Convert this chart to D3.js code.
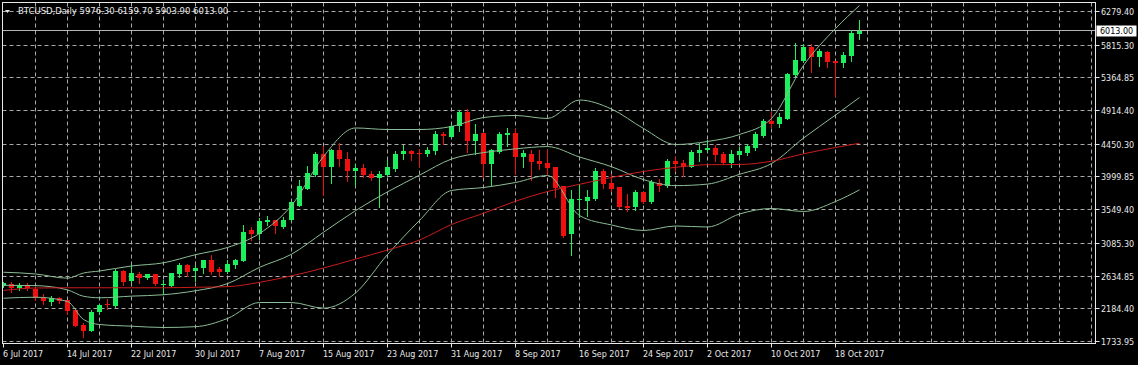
<!DOCTYPE html>
<html><head><meta charset="utf-8">
<script src="https://cdn.jsdelivr.net/npm/d3@7"></script>
<style>html,body{margin:0;padding:0;background:#000;overflow:hidden}svg{display:block}</style>
</head><body>
<svg id="c" width="1138" height="365"></svg>
<script>
// ---------- data ----------
const symbolTitle = "BTCUSD,Daily";
const startDay = "2017-07-06";
const opens = [2492,2529,2468,2519,2460,2330,2281,2330,2299,2171,1968,1885,2138,2253,2220,2702,2565,2666,2611,2657,
2515,2505,2657,2781,2702,2749,2850,2735,2688,2781,2840,3263,3208,3377,3401,3308,3401,3607,3837,4034,
4310,4135,4374,4250,4080,4126,4044,3989,4034,4113,4310,4355,4337,4310,4355,4595,4548,4709,4892,4493,
4603,4172,4341,4576,4603,4282,4319,4217,4190,4135,3869,3208,3680,3676,3690,4089,3914,3859,3607,3584,
3790,3653,3914,3869,4217,4190,4144,4328,4365,4402,4310,4190,4296,4328,4402,4571,4768,4723,4801,5398,
5604,5788,5650,5719,5595,5567,5673,5976.30];
const highs = [2560,2547,2533,2533,2478,2395,2358,2344,2305,2188,1982,2171,2253,2322,2735,2712,2781,2698,2666,2666,
2584,2684,2812,2804,2781,2859,2919,2757,2850,2873,3332,3308,3438,3469,3414,3446,3676,3952,4158,4341,
4420,4392,4471,4341,4182,4172,4080,4080,4237,4355,4443,4365,4388,4410,4640,4617,4733,4916,4939,4733,
4612,4385,4617,4677,4664,4365,4365,4365,4365,4140,3875,3814,3906,3823,4126,4113,4044,3865,3759,3814,
3793,3961,3975,4241,4282,4237,4365,4465,4503,4434,4341,4365,4410,4457,4617,4801,4892,4879,5439,5843,
5834,5834,5766,5742,5604,5719,6027,6159.70];
const lows = [2478,2413,2450,2450,2299,2244,2239,2267,2106,1941,1793,1872,2115,2175,2216,2515,2551,2542,2598,2519,
2391,2496,2620,2643,2574,2675,2666,2643,2684,2749,2836,3135,3149,3332,3222,3295,3391,3597,3828,4020,
3745,3914,4158,3938,3892,3997,3952,3584,4007,4089,4250,4237,4158,4286,4310,4457,4544,4640,4341,4319,
3993,3883,4337,4420,4044,4135,3952,4113,4044,3722,3171,2919,3446,3456,3683,3851,3804,3576,3529,3548,
3639,3648,3804,3859,4089,4007,4140,4227,4355,4217,4182,4144,4264,4296,4374,4548,4695,4695,4792,5391,
5577,5443,5522,5512,5109,5512,5595,5903.90];
const closes = [2542,2468,2515,2468,2330,2289,2330,2289,2151,1954,1885,2147,2230,2230,2702,2560,2675,2611,2657,2529,
2529,2675,2781,2688,2749,2850,2688,2688,2795,2850,3249,3208,3391,3401,3322,3410,3653,3869,4052,4319,
4135,4374,4250,4080,4126,4034,3989,4044,4135,4310,4355,4310,4328,4365,4595,4558,4709,4892,4493,4595,
4182,4374,4595,4603,4282,4333,4204,4172,4121,3851,3194,3690,3700,3722,4089,3906,3837,3593,3576,3790,
3653,3928,3869,4217,4172,4131,4341,4374,4396,4296,4190,4310,4355,4420,4595,4768,4723,4823,5412,5614,
5788,5650,5733,5581,5567,5687,5980,6013.00];

// Bollinger band readings (bar index -> price)
const bandIdx   = [0,4,8,10,12,16,20,24,28,32,36,40,44,48,52,56,60,64,68,72,76,80,84,88,92,96,100,104,107];
const bandUpper = [2688,2664,2606,2677,2705,2774,2818,2930,3029,3222,3607,4282,4675,4654,4654,4695,4819,4847,4806,5060,4936,4668,4447,4489,4585,4806,5536,6045,6362];
const bandMid   = [2509,2504,2445,2357,2336,2359,2378,2433,2531,2755,2936,3239,3536,3795,4025,4247,4336,4387,4419,4275,4142,3964,3881,3902,4037,4185,4536,4853,5095];
const bandLower = [2330,2344,2285,2037,1968,1945,1927,1938,2051,2271,2271,2193,2402,2932,3401,3814,3855,3924,4020,3469,3339,3263,3325,3311,3490,3566,3525,3662,3823];

// moving average readings
const maIdx = [0,4,8,12,16,20,24,28,32,36,40,44,48,52,56,60,64,68,72,76,80,84,88,92,96,100,104,107];
const maVal = [2437,2471,2474,2474,2474,2474,2481,2489,2549,2638,2746,2869,2994,3132,3345,3500,3666,3800,3899,3993,4076,4133,4169,4172,4217,4319,4406,4465];

const priceTicks = [1733.95,2184.40,2634.85,3085.30,3549.40,3999.85,4450.30,4914.40,5364.85,5815.30,6279.40];
const lastPrice = 6013.00;

// ---------- drawing ----------
const svg = d3.select("#c");
const W = 1138, H = 365;
const L = 2.5, R = 1095.5, T = 2.5, B = 343.5;

const start = new Date(startDay + "T00:00:00Z");
const dates = d3.utcDay.range(start, d3.utcDay.offset(start, opens.length));
const x = d3.scaleUtc().domain([start, d3.utcDay.offset(start, 137)]).range([3.5, 3.5 + 8 * 137]);
const y = d3.scaleLinear().domain([1733.95, 6279.40]).range([341.5, 11.5]);
const px = v => Math.round(v - 0.5) + 0.5;

svg.append("rect").attr("width", W).attr("height", H).attr("fill", "#000");

svg.append("defs").append("clipPath").attr("id", "clip")
  .append("rect").attr("x", L + 0.5).attr("y", T + 0.5).attr("width", R - L - 1).attr("height", B - T - 1);

const grid = svg.append("g").attr("stroke", "#a8a8a8").attr("stroke-width", 1).attr("stroke-dasharray", "4,3");
priceTicks.forEach(v => {
  grid.append("line").attr("x1", L).attr("x2", R).attr("y1", px(y(v))).attr("y2", px(y(v)));
});
const gridDates = d3.utcDay.every(1).range(start, d3.utcDay.offset(start, 137)).filter((d, i) => i % 4 === 0);
gridDates.forEach(d => {
  const gx = px(x(d));
  if (gx > L + 1 && gx < R) grid.append("line").attr("x1", gx).attr("x2", gx).attr("y1", T).attr("y2", B);
});

// current price line
svg.append("line").attr("x1", L).attr("x2", R).attr("y1", px(y(lastPrice))).attr("y2", px(y(lastPrice)))
  .attr("stroke", "#b4b4b4").attr("stroke-width", 1);

const plot = svg.append("g").attr("clip-path", "url(#clip)");

// candles
const bull = "#1cf05c", bear = "#f01010";
const cg = plot.append("g");
dates.forEach((d, i) => {
  const cx = Math.round(x(d) - 0.5) + 0.5;
  const o = opens[i], c = closes[i], h = highs[i], l = lows[i];
  const col = c >= o ? bull : bear;
  cg.append("line").attr("x1", cx).attr("x2", cx).attr("y1", Math.round(y(h))).attr("y2", Math.round(y(l)) + 1)
    .attr("stroke", col).attr("stroke-width", 1);
  const yt = Math.round(y(Math.max(o, c))), yb = Math.round(y(Math.min(o, c)));
  cg.append("rect").attr("x", cx - 2.5).attr("y", yt).attr("width", 5).attr("height", Math.max(1, yb - yt))
    .attr("fill", col);
});

// indicator lines
const bandLine = (idx, vals) => d3.line().curve(d3.curveMonotoneX)
  .x((v, k) => x(dates[idx[k]])).y(v => y(v))(vals);
const bandColor = "#8cbd96";
[bandUpper, bandMid, bandLower].forEach(arr => {
  plot.append("path").attr("d", bandLine(bandIdx, arr)).attr("fill", "none")
    .attr("stroke", bandColor).attr("stroke-width", 1);
});
plot.append("path").attr("d", bandLine(maIdx, maVal)).attr("fill", "none")
  .attr("stroke", "#cc1c1c").attr("stroke-width", 1);

// frame
svg.append("rect").attr("x", L).attr("y", T).attr("width", R - L).attr("height", B - T)
  .attr("fill", "none").attr("stroke", "#e8e8e8").attr("stroke-width", 1);

// price axis
const yAxis = d3.axisRight(y).tickValues(priceTicks).tickFormat(d3.format(".2f")).tickSize(4).tickPadding(1.5);
const ya = svg.append("g").attr("transform", `translate(${R},0)`).call(yAxis);
ya.select(".domain").remove();
ya.selectAll(".tick").attr("transform", d => `translate(0,${px(y(d))})`);
ya.selectAll(".tick line").attr("stroke", "#e8e8e8");
ya.selectAll(".tick text").attr("fill", "#e8e8e8").attr("dy", "0.45em")
  .style("font-family", "'DejaVu Sans'").style("font-size", "8px");

// date axis
const dateTicks = dates.filter((d, i) => i % 8 === 0);
const xAxis = d3.axisBottom(x).tickValues(dateTicks).tickFormat(d3.utcFormat("%-d %b %Y")).tickSize(4).tickPadding(5);
const xa = svg.append("g").attr("transform", `translate(0,${B})`).call(xAxis);
xa.select(".domain").remove();
xa.selectAll(".tick").attr("transform", d => `translate(${px(x(d))},0)`);
xa.selectAll(".tick line").attr("stroke", "#e8e8e8");
xa.selectAll(".tick text").attr("fill", "#e8e8e8").attr("text-anchor", "start").attr("x", -0.5).attr("dy", "0.6em")
  .style("font-family", "'DejaVu Sans'").style("font-size", "8px");

// current price tag
const tagY = px(y(lastPrice));
svg.append("rect").attr("x", R + 1).attr("y", tagY - 5).attr("width", 40).attr("height", 11).attr("fill", "#fff");
svg.append("text").attr("x", R + 4.5).attr("y", tagY + 3.5).text(d3.format(".2f")(lastPrice))
  .attr("fill", "#000").style("font-family", "'DejaVu Sans'").style("font-size", "8px");

// title
svg.append("path").attr("d", "M5,10 L10,10 L7.5,13 Z").attr("fill", "#e8e8e8");
const last = opens.length - 1;
svg.append("text").attr("x", 18).attr("y", 13.5)
  .text(`${symbolTitle} ${d3.format(".2f")(opens[last])} ${d3.format(".2f")(highs[last])} ${d3.format(".2f")(lows[last])} ${d3.format(".2f")(closes[last])}`)
  .attr("fill", "#e8e8e8").style("font-family", "'DejaVu Sans'").style("font-size", "8.5px");
</script>
</body></html>
